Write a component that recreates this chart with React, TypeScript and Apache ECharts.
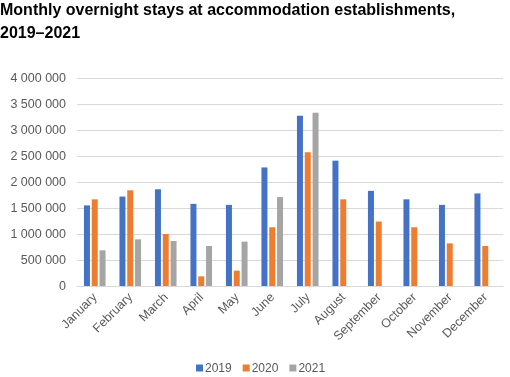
import React, { useEffect, useRef } from "react";
import * as echarts from "echarts";

const months = ["January", "February", "March", "April", "May", "June", "July", "August", "September", "October", "November", "December"];
const v2019 = [1550000, 1720000, 1860000, 1580000, 1560000, 2280000, 3275000, 2410000, 1830000, 1667000, 1560000, 1780000];
const v2020 = [1667000, 1840000, 1000000, 186000, 295000, 1130000, 2570000, 1667000, 1240000, 1130000, 820000, 770000];
const v2021 = [686000, 897000, 865000, 770000, 853000, 1710000, 3330000, null, null, null, null, null];
const yearNames = ["2019", "2020", "2021"];
const colors = ["#4472C4", "#ED7D31", "#A5A5A5"];

function fmt(v: number) {
  return String(v).replace(/\B(?=(\d{3})+(?!\d))/g, " ");
}

export default function App() {
  const ref = useRef<HTMLDivElement>(null);
  useEffect(() => {
    const chart = echarts.init(ref.current!, null, { renderer: "svg" });
    const data = [v2019, v2020, v2021];
    chart.setOption({
      animation: false,
      textStyle: { fontFamily: "Liberation Sans, Arial, sans-serif" },
      title: {
        text: "Monthly overnight stays at accommodation establishments,\n2019–2021",
        left: 0,
        top: -2,
        padding: 0,
        textStyle: { fontSize: 16, fontWeight: "bold", color: "#000", lineHeight: 23, fontFamily: "Liberation Sans, Arial, sans-serif" },
      },
      legend: {
        top: 362,
        left: 196,
        padding: 0,
        itemWidth: 7,
        itemHeight: 7,
        itemGap: 11,
        icon: "rect",
        textStyle: { fontSize: 12, color: "#595959", padding: [0, 0, 0, -3] },
        data: yearNames,
      },
      grid: { left: 77, right: 7, top: 78, bottom: 91 },
      xAxis: {
        type: "category",
        data: months,
        axisTick: { show: false },
        axisLine: { lineStyle: { color: "#D9D9D9" } },
        axisLabel: { rotate: 45, fontSize: 12.5, color: "#595959", interval: 0, margin: 9 },
      },
      yAxis: {
        type: "value",
        min: 0,
        max: 4000000,
        interval: 500000,
        axisLabel: { fontSize: 12.5, color: "#595959", formatter: (v: number) => fmt(v), margin: 11 },
        splitLine: { lineStyle: { color: "#D9D9D9" } },
        axisLine: { show: false },
        axisTick: { show: false },
      },
      series: yearNames.map((n, i) => ({
        name: n,
        type: "bar",
        data: data[i],
        barWidth: 6,
        barGap: "30%",
        itemStyle: { color: colors[i] },
      })),
    });
    return () => chart.dispose();
  }, []);
  return <div ref={ref} style={{ position: "fixed", left: 0, top: 0, width: 510, height: 377 }} />;
}
